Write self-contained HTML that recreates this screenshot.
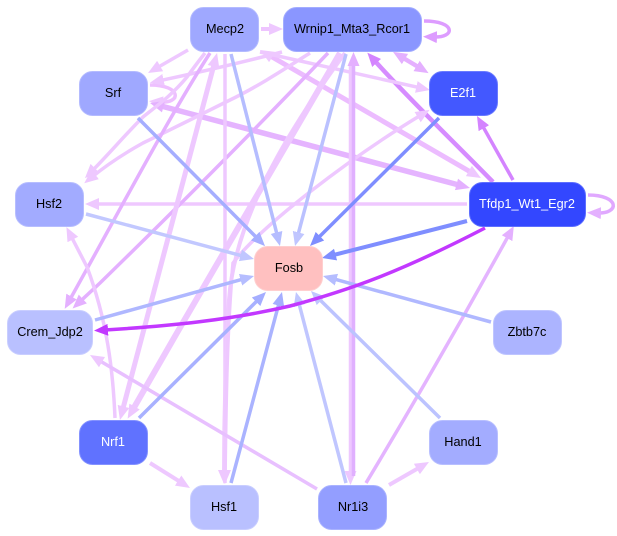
<!DOCTYPE html>
<html><head><meta charset="utf-8">
<style>
html,body{margin:0;padding:0;background:#fff}
svg{display:block}
text{font-family:"Liberation Sans",sans-serif;font-size:12.7px;text-anchor:middle}
path{fill:none;stroke-linecap:butt}
</style></head><body>
<svg width="617" height="536" viewBox="0 0 617 536" xmlns="http://www.w3.org/2000/svg">
<defs>
<marker id="a" markerUnits="userSpaceOnUse" markerWidth="15" markerHeight="14" refX="4" refY="7" orient="auto-start-reverse"><path d="M0 1L14 7L0 13Z" style="fill:#eec8ff"/></marker>
<marker id="b" markerUnits="userSpaceOnUse" markerWidth="15" markerHeight="14" refX="4" refY="7" orient="auto-start-reverse"><path d="M0 1L14 7L0 13Z" style="fill:#e4b0ff"/></marker>
<marker id="c" markerUnits="userSpaceOnUse" markerWidth="15" markerHeight="14" refX="4" refY="7" orient="auto-start-reverse"><path d="M0 1L14 7L0 13Z" style="fill:#d484ff"/></marker>
<marker id="d" markerUnits="userSpaceOnUse" markerWidth="15" markerHeight="14" refX="4" refY="7" orient="auto-start-reverse"><path d="M0 1L14 7L0 13Z" style="fill:#dd9cff"/></marker>
<marker id="e" markerUnits="userSpaceOnUse" markerWidth="15" markerHeight="14" refX="3" refY="7" orient="auto-start-reverse"><path d="M0 1L14 7L0 13Z" style="fill:#c238ff"/></marker>
<marker id="f" markerUnits="userSpaceOnUse" markerWidth="15" markerHeight="14" refX="4" refY="7" orient="auto-start-reverse"><path d="M0 1L14 7L0 13Z" style="fill:#b5bdff"/></marker>
<marker id="g" markerUnits="userSpaceOnUse" markerWidth="15" markerHeight="14" refX="4" refY="7" orient="auto-start-reverse"><path d="M0 1L14 7L0 13Z" style="fill:#c0c6ff"/></marker>
<marker id="h" markerUnits="userSpaceOnUse" markerWidth="15" markerHeight="14" refX="4" refY="7" orient="auto-start-reverse"><path d="M0 1L14 7L0 13Z" style="fill:#a5aeff"/></marker>
<marker id="i" markerUnits="userSpaceOnUse" markerWidth="15" markerHeight="14" refX="4" refY="7" orient="auto-start-reverse"><path d="M0 1L14 7L0 13Z" style="fill:#7f8eff"/></marker>
</defs>

<!-- Regulatory edges -->
<g stroke-width="3.5">
<path d="M261 29L273 29" stroke="#eec4ff" stroke-width="4" marker-end="url(#a)"/>
<path d="M188 50L156.7 68" stroke="#eec8ff" marker-end="url(#a)"/>
<path d="M467 204L95 204" stroke="#efc8ff" marker-end="url(#a)"/>
<path d="M513 180L481.9 124.7" stroke="#d484ff" marker-end="url(#c)"/>
<path d="M588 195C620 195 620 214 597 213" stroke="#e0a8ff" marker-end="url(#b)"/>
<path d="M424 21C456 21 456 38 433 37" stroke="#dd9cff" marker-end="url(#d)"/>
<path d="M150 85C182 85 182 104 159 102" stroke="#eec0ff" marker-end="url(#a)"/>

<path d="M493 182C450 138 410 100 374 60" stroke="#d68cff" stroke-width="4.5" marker-end="url(#c)"/>
<path d="M472.3 173L268.7 55" stroke="#ecbcff" stroke-width="5" marker-start="url(#a)" marker-end="url(#a)"/>
<path d="M159.7 105.6L460.3 185.4" stroke="#e5b4ff" stroke-width="5.5" marker-start="url(#b)" marker-end="url(#b)"/>
<path d="M401.6 57L420 68" stroke="#e5b0ff" stroke-width="4.5" marker-start="url(#b)" marker-end="url(#b)"/>
<path d="M282 52Q220 68 159.7 80.7" stroke="#eec8ff" marker-end="url(#a)"/>
<path d="M260 52L420.2 87.8" stroke="#eec8ff" marker-end="url(#a)"/>

<path d="M310 53C280 72 255 88 230 100C200 115 170 130 143 143C125 153 108 164 92 177" stroke="#eec8ff" marker-end="url(#a)"/>
<path d="M205 53C198 62 192 70 187 77C172 95 158 105 143 117C125 135 108 155 92 171" stroke="#eec8ff" marker-end="url(#a)"/>
<path d="M210 53C170 115 120 210 69.6 300.1" stroke="#e4b0ff" marker-end="url(#b)"/>
<path d="M328 53C250 135 180 205 100 283L79.9 301.7" stroke="#e4b0ff" marker-end="url(#b)"/>

<path d="M225 54L225 474" stroke="#eec8ff" marker-end="url(#a)"/>
<path d="M345 53C300 115 235 210 229 300C225 370 224 430 224 474" stroke="#efcaff" stroke-width="4" marker-end="url(#a)"/>
<path d="M225 483C226 400 227 330 233 263C262 225 350 158 421 115" stroke="#eec8ff" marker-end="url(#a)"/>
<path d="M340 53C300 120 210 275 132.6 410" stroke="#eec8ff" stroke-width="6" marker-end="url(#a)"/>
<path d="M122.5 410.3L214.5 62.7" stroke="#eec8ff" stroke-width="5" marker-start="url(#a)" marker-end="url(#a)"/>
<path d="M115 418C113 370 107 320 87 267L71 236" stroke="#eec8ff" marker-end="url(#a)"/>
<path d="M150 463L181.5 482.7" stroke="#eec8ff" stroke-width="4" marker-end="url(#a)"/>
<path d="M389 485L420.3 467" stroke="#eec8ff" stroke-width="4" marker-end="url(#a)"/>
<path d="M317 489L98.6 360.1" stroke="#e8c0ff" marker-end="url(#a)"/>
<path d="M366 483Q440 360 509 234.7" stroke="#e4b4ff" marker-end="url(#b)"/>
<path d="M350.5 63L350.5 475" stroke="#eec8ff" stroke-width="3.5" marker-end="url(#a)"/>
<path d="M353.5 476L353.5 62" stroke="#e0b0ff" stroke-width="3.5" marker-end="url(#b)"/>
</g>

<!-- Edges to Fosb -->
<g stroke-width="3.5">
<path d="M231 54L277.5 236.3" stroke="#b5bdff" marker-end="url(#f)"/>
<path d="M346 54L297.6 236.3" stroke="#bac1ff" marker-end="url(#g)"/>
<path d="M138 118L258 239" stroke="#a5aeff" marker-end="url(#h)"/>
<path d="M86 214L244.3 256.4" stroke="#c2c8ff" marker-end="url(#g)"/>
<path d="M439 118L317.1 239" stroke="#7f8eff" marker-end="url(#i)"/>
<path d="M467 221L331.7 255.5" stroke="#7f8eff" stroke-width="4" marker-end="url(#i)"/>
<path d="M95 320L244.4 278.7" stroke="#afb7ff" marker-end="url(#f)"/>
<path d="M139 418L258.9 299" stroke="#a8b1ff" marker-end="url(#h)"/>
<path d="M231 483L279.4 301.7" stroke="#aab3ff" marker-end="url(#h)"/>
<path d="M346 483L298.5 301.7" stroke="#c0c6ff" marker-end="url(#g)"/>
<path d="M440 418L318.1 298" stroke="#bcc3ff" marker-end="url(#g)"/>
<path d="M491 322L332.6 278.6" stroke="#b0b8ff" marker-end="url(#f)"/>
<path d="M485 228C400 272 350 290 290 306C230 320 170 326 105 330" stroke="#c238ff" marker-end="url(#e)"/>
</g>

<!-- Nodes -->
<g stroke-width="1">
<rect x="190.5" y="7.5" width="68" height="44" rx="13" fill="#9fa8ff" stroke="#b4bbff"/>
<rect x="283.5" y="7.5" width="138" height="44" rx="13" fill="#8a96ff" stroke="#a3adff"/>
<rect x="79.5" y="71.5" width="68" height="44" rx="13" fill="#9fa8ff" stroke="#b4bbff"/>
<rect x="429.5" y="71.5" width="68" height="44" rx="13" fill="#4358ff" stroke="#6a7bff"/>
<rect x="15.5" y="182.5" width="68" height="44" rx="13" fill="#a2abff" stroke="#b7beff"/>
<rect x="469.5" y="182.5" width="116" height="44" rx="13" fill="#3347ff" stroke="#5e6fff"/>
<rect x="254.5" y="246.5" width="68" height="44" rx="13" fill="#ffc0c0" stroke="#ffcfcf"/>
<rect x="7.5" y="310.5" width="85" height="44" rx="13" fill="#b9c0ff" stroke="#c9ceff"/>
<rect x="493.5" y="310.5" width="68" height="44" rx="13" fill="#acb4ff" stroke="#bfc5ff"/>
<rect x="79.5" y="420.5" width="68" height="44" rx="13" fill="#6072ff" stroke="#8492ff"/>
<rect x="429.5" y="420.5" width="68" height="44" rx="13" fill="#a3acff" stroke="#b8bfff"/>
<rect x="190.5" y="485.5" width="68" height="44" rx="13" fill="#b9c0ff" stroke="#c9ceff"/>
<rect x="318.5" y="485.5" width="68" height="44" rx="13" fill="#939eff" stroke="#aab3ff"/>
</g>

<g fill="#000">
<text x="225" y="33">Mecp2</text>
<text x="352" y="33">Wrnip1_Mta3_Rcor1</text>
<text x="113" y="97">Srf</text>
<text x="49" y="208">Hsf2</text>
<text x="289" y="272">Fosb</text>
<text x="50" y="336">Crem_Jdp2</text>
<text x="527" y="336">Zbtb7c</text>
<text x="463" y="446">Hand1</text>
<text x="224" y="511">Hsf1</text>
<text x="353" y="511">Nr1i3</text>
</g>
<g fill="#fff">
<text x="463" y="97">E2f1</text>
<text x="527" y="208">Tfdp1_Wt1_Egr2</text>
<text x="113" y="446">Nrf1</text>
</g>
</svg>
</body></html>
